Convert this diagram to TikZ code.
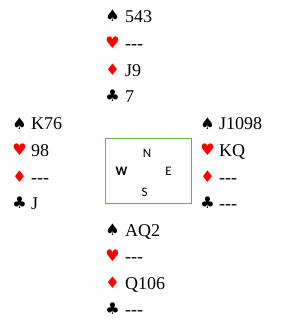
\documentclass[tikz,border=0pt]{standalone}
\usepackage{fontspec}
\setmainfont[Ligatures=NoCommon]{Liberation Serif}
\newfontfamily\suitfont{DejaVu Sans}
\newfontfamily\compfont{Carlito}
\definecolor{boxgreen}{RGB}{112,173,71}
\newcommand{\dsh}{-{}-{}-}
\begin{document}
\begin{tikzpicture}[x=1pt,y=-1pt,
  cardtxt/.style={anchor=base west,inner sep=0pt,font=\fontsize{18}{20}\selectfont},
  suitblack/.style={anchor=base,inner sep=0pt,font=\suitfont\fontsize{16}{17}\selectfont,text=black},
  suitred/.style={suitblack,text=red},
  compass/.style={inner sep=0pt,font=\compfont\fontsize{13}{14}\selectfont}]
\useasboundingbox (0,0) rectangle (290,323);
% North
\node[suitblack] (ns) at (112.5,22) {♠};
\node[suitred]   (nh) at (112.5,49) {♥};
\node[suitred]   (nd) at (112.5,76) {♦};
\node[suitblack] (nc) at (112.5,102) {♣};
\node[cardtxt] (nst) at (125,23) {543};
\node[cardtxt] (nht) at (125,50) {\dsh};
\node[cardtxt] (ndt) at (125,77) {J9};
\node[cardtxt] (nct) at (125,103) {7};
% West
\node[suitblack] (ws) at (19.5,129) {♠};
\node[suitred]   (wh) at (19.5,155) {♥};
\node[suitred]   (wd) at (19.5,182) {♦};
\node[suitblack] (wc) at (19.5,208) {♣};
\node[cardtxt] (wst) at (31,130) {K76};
\node[cardtxt] (wht) at (31,156) {98};
\node[cardtxt] (wdt) at (31,183) {\dsh};
\node[cardtxt] (wct) at (31,209) {J};
% East
\node[suitblack] (es) at (207.5,129) {♠};
\node[suitred]   (eh) at (207.5,155) {♥};
\node[suitred]   (ed) at (207.5,182) {♦};
\node[suitblack] (ec) at (207.5,208) {♣};
\node[cardtxt] (est) at (219,130) {J1098};
\node[cardtxt] (eht) at (219,156) {KQ};
\node[cardtxt] (edt) at (219,183) {\dsh};
\node[cardtxt] (ect) at (219,209) {\dsh};
% South
\node[suitblack] (ss) at (112.5,235) {♠};
\node[suitred]   (sh) at (112.5,261) {♥};
\node[suitred]   (sd) at (112.5,288) {♦};
\node[suitblack] (sc) at (112.5,314) {♣};
\node[cardtxt] (sst) at (125,236) {AQ2};
\node[cardtxt] (sht) at (125,262) {\dsh};
\node[cardtxt] (sdt) at (125,289) {Q106};
\node[cardtxt] (sct) at (125,315) {\dsh};
% Compass box
\node[draw=boxgreen,line width=1pt,minimum width=86pt,minimum height=65pt,inner sep=0pt] (box) at (148,170.5) {};
\node[compass] (cn) at (147,153) {N};
\node[compass,font=\compfont\bfseries\fontsize{13}{14}\selectfont] (cw) at (121.5,171) {W};
\node[compass] (ce) at (168.5,171) {E};
\node[compass] (cs) at (144.5,192) {S};
\end{tikzpicture}
\end{document}
